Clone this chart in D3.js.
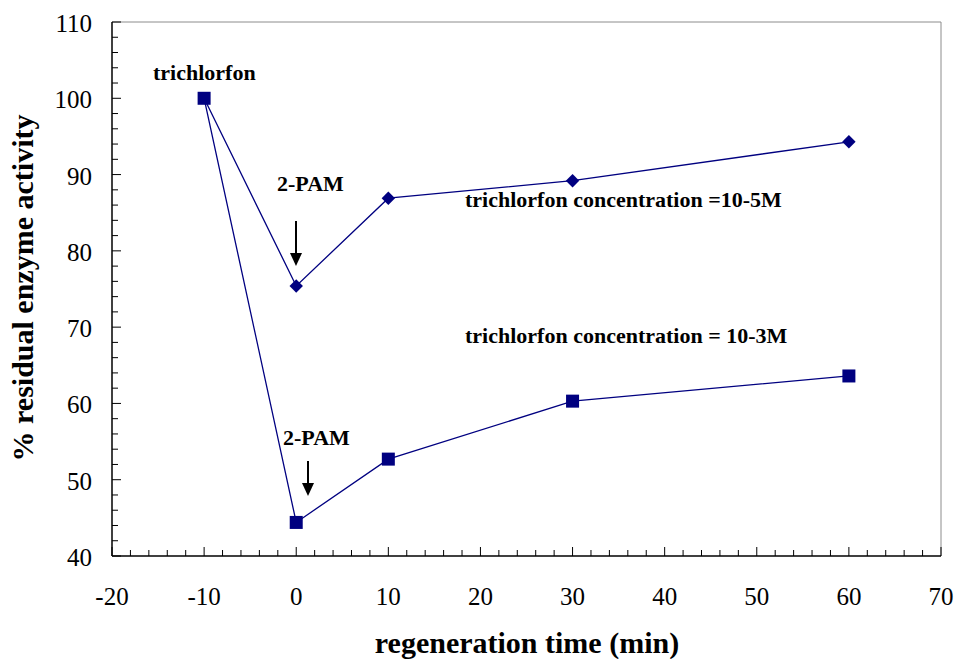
<!DOCTYPE html>
<html>
<head>
<meta charset="utf-8">
<script src="https://cdn.jsdelivr.net/npm/d3@7"></script>
<style>
  body { margin: 0; background: #fff; }
  svg text { font-family: "Liberation Serif", "Times New Roman", serif; }
</style>
</head>
<body>
<svg width="959" height="659"></svg>
<script>
// regeneration time (min) vs % residual enzyme activity
const timeMin = [-10, 0, 10, 30, 60];
const act10m3 = [100, 44.4, 52.7, 60.3, 63.6];   // squares, 10-3M
const act10m5 = [100, 75.4, 86.9, 89.2, 94.3];   // diamonds, 10-5M
const xTicks = [-20, -10, 0, 10, 20, 30, 40, 50, 60, 70];
const yTicks = [40, 50, 60, 70, 80, 90, 100, 110];

const svg = d3.select('svg');
const L = 112, R = 941, T = 22, B = 556;
const x = d3.scaleLinear().domain([-20, 70]).range([L, R]);
const y = d3.scaleLinear().domain([40, 110]).range([B, T]);
const navy = '#000080';

// frame: top/right grey
svg.append('path').attr('d', `M${L},${T}H${R}V${B}`)
  .attr('fill', 'none').attr('stroke', '#8c8c8c').attr('stroke-width', 1);

// x axis, ticks inward
const minorX = d3.range(-20, 71, 2);
svg.append('g').selectAll('line').data(minorX).join('line')
  .attr('x1', d => x(d)).attr('x2', d => x(d))
  .attr('y1', B).attr('y2', d => B - (d % 10 === 0 ? 9 : 6))
  .attr('stroke', '#000');
svg.append('line').attr('x1', L).attr('x2', R).attr('y1', B).attr('y2', B)
  .attr('stroke', '#000').attr('stroke-width', 1.5);
svg.append('g').selectAll('text').data(xTicks).join('text')
  .attr('x', d => x(d)).attr('y', 605).attr('text-anchor', 'middle')
  .attr('font-size', 25).text(d => d);

// y axis
const minorY = d3.range(40, 111, 2);
svg.append('g').selectAll('line').data(minorY).join('line')
  .attr('y1', d => y(d)).attr('y2', d => y(d))
  .attr('x1', L).attr('x2', d => L + (d % 10 === 0 ? 9 : 6))
  .attr('stroke', '#000');
svg.append('line').attr('x1', L).attr('x2', L).attr('y1', T).attr('y2', B)
  .attr('stroke', '#000').attr('stroke-width', 1.5);
svg.append('g').selectAll('text').data(yTicks).join('text')
  .attr('x', 92).attr('y', d => y(d) + 10).attr('text-anchor', 'end')
  .attr('font-size', 25).text(d => d);

// axis titles
svg.append('text').attr('x', 527).attr('y', 653).attr('text-anchor', 'middle')
  .attr('font-size', 30).attr('font-weight', 'bold').text('regeneration time (min)');
svg.append('text').attr('transform', 'translate(33,288) rotate(-90)')
  .attr('text-anchor', 'middle').attr('font-size', 30).attr('font-weight', 'bold')
  .text('% residual enzyme activity');

// lines
const line = d3.line().x(d => x(d[0])).y(d => y(d[1]));
const s3 = d3.zip(timeMin, act10m3);
const s5 = d3.zip(timeMin, act10m5);
[s5, s3].forEach(s => svg.append('path').attr('d', line(s))
  .attr('fill', 'none').attr('stroke', navy).attr('stroke-width', 1.3));

// markers
svg.append('g').selectAll('path').data(s5.slice(1)).join('path')
  .attr('d', d3.symbol(d3.symbolDiamond2, 115))
  .attr('transform', d => `translate(${x(d[0])},${y(d[1])})`)
  .attr('fill', navy);
svg.append('g').selectAll('rect').data(s3).join('rect')
  .attr('x', d => x(d[0]) - 6.5).attr('y', d => y(d[1]) - 6.5)
  .attr('width', 13).attr('height', 13).attr('fill', navy);

// annotations
const ann = svg.append('g').attr('font-weight', 'bold').attr('font-size', 22);
ann.append('text').attr('x', 153).attr('y', 80).text('trichlorfon');
ann.append('text').attr('x', 277).attr('y', 191).text('2-PAM');
ann.append('text').attr('x', 283).attr('y', 445).text('2-PAM');
ann.append('text').attr('x', 465).attr('y', 207).text('trichlorfon concentration =10-5M');
ann.append('text').attr('x', 465).attr('y', 343).text('trichlorfon concentration = 10-3M');

// arrows
function arrow(ax, y0, y1) {
  svg.append('line').attr('x1', ax).attr('x2', ax).attr('y1', y0).attr('y2', y1 - 10)
    .attr('stroke', '#000').attr('stroke-width', 2);
  svg.append('path').attr('d', `M${ax - 6},${y1 - 13}L${ax + 6},${y1 - 13}L${ax},${y1}Z`)
    .attr('fill', '#000');
}
arrow(296, 221, 266);
arrow(308, 461, 496);
</script>
</body>
</html>
